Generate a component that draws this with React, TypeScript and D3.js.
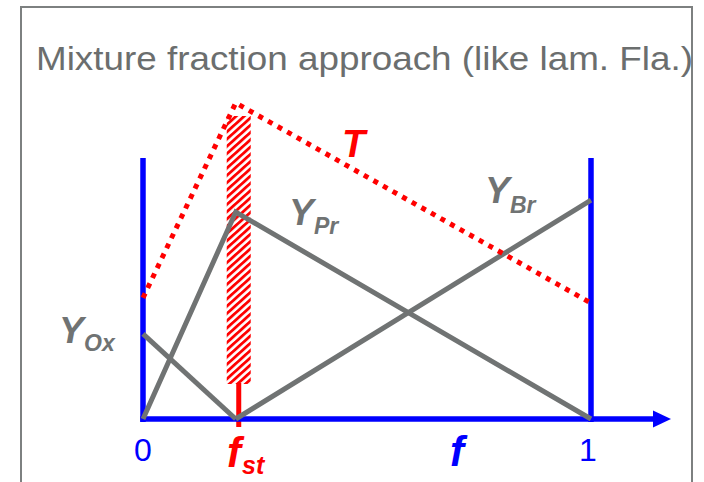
import React from "react";
import * as d3 from "d3";

const fPoints = [0, 0.207, 1];
const fst = 0.207;
const yOx = [0.326, 0];
const yPr = [0, 0.793, 0];
const yBr = [0, 0.839];
const temp = [0.464, 1.211, 0.444];
const tickLabels = ["0", "1"];

const W = 704;
const H = 482;

export default function App() {
  const x = d3.scaleLinear().domain([0, 1]).range([143, 591]);
  const y = d3.scaleLinear().domain([0, 1]).range([419, 158]);
  const line = d3
    .line<[number, number]>()
    .x((d) => x(d[0]))
    .y((d) => y(d[1]));

  const oxPts: [number, number][] = [
    [fPoints[0], yOx[0]],
    [fPoints[1], yOx[1]],
  ];
  const prPts: [number, number][] = fPoints.map((f, i) => [f, yPr[i]]);
  const brPts: [number, number][] = [
    [fPoints[1], yBr[0]],
    [fPoints[2], yBr[1]],
  ];
  const tPts: [number, number][] = fPoints.map((f, i) => [f, temp[i]]);

  const gray = "#707373";
  const blue = "#0000ff";
  const red = "#ff0000";
  const font = "Arial, 'Liberation Sans', sans-serif";
  const xf = x(fst);

  return (
    <svg
      width={W}
      height={H}
      style={{ position: "absolute", left: 0, top: 0 }}
      fontFamily={font}
    >
      <defs>
        <pattern
          id="hatch"
          patternUnits="userSpaceOnUse"
          width={5.4}
          height={5.4}
          patternTransform="rotate(48)"
        >
          <rect x={0} y={0} width={2.8} height={5.4} fill={red} />
        </pattern>
      </defs>
      <rect x={0} y={0} width={W} height={H} fill="#fff" />
      {/* frame */}
      <path
        d={`M21,${H + 5} V7 H692 V${H + 5}`}
        fill="none"
        stroke="#7d8080"
        strokeWidth={2}
      />
      <text
        x={36}
        y={70}
        fontSize={34}
        fill="#6b6e6e"
        textLength={657}
        lengthAdjust="spacingAndGlyphs"
      >
        Mixture fraction approach (like lam. Fla.)
      </text>

      {/* hatched stoichiometric band */}
      <rect
        x={xf - 9}
        y={116}
        width={24}
        height={268}
        fill="url(#hatch)"
      />
      <line
        x1={xf + 3}
        x2={xf + 3}
        y1={383}
        y2={427}
        stroke={red}
        strokeWidth={5}
      />

      {/* axes */}
      <line x1={x(0)} x2={x(0)} y1={y(1)} y2={y(0) + 3} stroke={blue} strokeWidth={5.5} />
      <line x1={x(1)} x2={x(1)} y1={y(1)} y2={y(0) + 3} stroke={blue} strokeWidth={5.5} />
      <line x1={x(0) - 2.75} x2={655} y1={y(0)} y2={y(0)} stroke={blue} strokeWidth={5.5} />
      <polygon
        points={`653,${y(0) - 8.5} 671,${y(0)} 653,${y(0) + 8.5}`}
        fill={blue}
      />

      {/* species lines */}
      <path d={line(oxPts) || ""} fill="none" stroke={gray} strokeWidth={5} />
      <path d={line(prPts) || ""} fill="none" stroke={gray} strokeWidth={5} />
      <path d={line(brPts) || ""} fill="none" stroke={gray} strokeWidth={5} />

      {/* temperature */}
      <path
        d={line(tPts) || ""}
        fill="none"
        stroke={red}
        strokeWidth={5}
        strokeDasharray="5 6"
      />

      {/* labels */}
      <text x={342} y={157} fontSize={38} fontWeight="bold" fontStyle="italic" fill={red}>
        T
      </text>
      <text fill={gray} fontWeight="bold" fontStyle="italic">
        <tspan x={289} y={225} fontSize={37}>Y</tspan>
        <tspan x={314} y={234} fontSize={23}>Pr</tspan>
      </text>
      <text fill={gray} fontWeight="bold" fontStyle="italic">
        <tspan x={485} y={203} fontSize={37}>Y</tspan>
        <tspan x={510} y={213} fontSize={23}>Br</tspan>
      </text>
      <text fill={gray} fontWeight="bold" fontStyle="italic">
        <tspan x={59} y={343} fontSize={37}>Y</tspan>
        <tspan x={84} y={351} fontSize={23}>Ox</tspan>
      </text>

      <text x={x(0)} y={461} fontSize={32} fill={blue} textAnchor="middle">
        {tickLabels[0]}
      </text>
      <text x={x(1) - 3} y={461} fontSize={32} fill={blue} textAnchor="middle">
        {tickLabels[1]}
      </text>
      <text fill={red} fontWeight="bold" fontStyle="italic">
        <tspan x={227} y={467} fontSize={42}>f</tspan>
        <tspan x={242} y={474} fontSize={25}>st</tspan>
      </text>
      <text x={450} y={466} fontSize={42} fontWeight="bold" fontStyle="italic" fill={blue}>
        f
      </text>
    </svg>
  );
}
